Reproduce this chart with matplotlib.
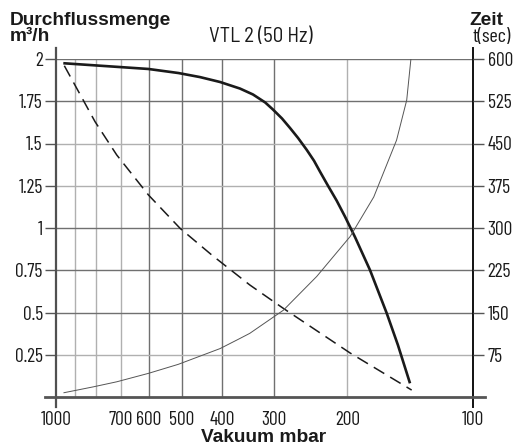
import matplotlib
matplotlib.use("Agg")
import matplotlib.pyplot as plt
from matplotlib.ticker import FixedLocator, FixedFormatter, NullLocator

# ---------------- data ----------------
flow_pressure = [960.5, 600.5, 508.7, 451.6, 404.3, 362, 337, 315.1, 301.8, 287.1, 274.7,
                 262.8, 250.4, 240.6, 232.7, 222.7, 212.3, 202.8, 191.9, 176.6, 161.1, 151.4, 141.6]
flow_values = [1.975, 1.941, 1.917, 1.893, 1.864, 1.825, 1.790, 1.743, 1.701, 1.648, 1.592,
               1.533, 1.462, 1.398, 1.333, 1.25, 1.162, 1.068, 0.947, 0.751, 0.497, 0.308, 0.081]

dash_pressure = [955, 806, 715, 600, 504, 423, 343, 286, 197, 140.3]
dash_values = [1.96, 1.629, 1.432, 1.195, 0.998, 0.84, 0.663, 0.527, 0.26, 0.041]

time_pressure = [957, 814, 715, 600, 509, 404, 362, 343, 285, 237, 197, 173, 152.5, 144.2, 140.9]
time_values = [7.6, 18, 27, 42, 58, 86, 104, 113, 154, 214, 285, 355, 456, 527, 600]

x_grid = [900, 800, 700, 600, 500, 400, 300, 200]
x_ticks = [1000, 700, 600, 500, 400, 300, 200, 100]
x_labels = ["1000", "700", "600", "500", "400", "300", "200", "100"]
y_ticks = [0.25, 0.5, 0.75, 1, 1.25, 1.5, 1.75, 2]
y_labels = ["0.25", "0.5", "0.75", "1", "1.25", "1.5", "1.75", "2"]
t_ticks = [75, 150, 225, 300, 375, 450, 525, 600]
t_labels = ["75", "150", "225", "300", "375", "450", "525", "600"]

title = "VTL 2 (50 Hz)"
ylabel_left = ["Durchflussmenge", "m³/h"]
ylabel_right = ["Zeit", "t(sec)"]
xlabel = "Vakuum mbar"

# ---------------- figure ----------------
W, H = 513, 446
fig = plt.figure(figsize=(W / 100, H / 100), dpi=100)
L, R, T, B = 56, 473, 59, 397
ax = fig.add_axes([L / W, 1 - B / H, (R - L) / W, (B - T) / H])
ax.set_xscale("log")
ax.set_xlim(1000, 100)
ax.set_ylim(0, 2)

cond = ["Barlow Condensed", "DejaVu Sans"]
semi = ["Barlow Semi Condensed", "Barlow Condensed", "DejaVu Sans"]
bold = ["Liberation Sans", "DejaVu Sans"]
txt = "#1a1a1a"
tick_fs = 14

dark_g, light_g = "#707070", "#b0b0b0"
xg_col = [light_g, light_g, light_g, dark_g, dark_g, dark_g, dark_g, light_g]
for xv, c in zip(x_grid, xg_col):
    ax.axvline(xv, color=c, lw=1.0, zorder=1)
yg_col = [light_g, dark_g, dark_g, dark_g, light_g, light_g, dark_g, dark_g]
for yv, c in zip(y_ticks, yg_col):
    ax.axhline(yv, color=c, lw=1.0, zorder=1)

for s in ax.spines.values():
    s.set_visible(False)

# spines drawn extended
h_ax = B - T
w_ax = R - L
ax.plot([0, 0], [(B - 407) / h_ax, (B - 48) / h_ax], transform=ax.transAxes,
        color="#505050", lw=1.6, clip_on=False, zorder=3)
ax.plot([1, 1], [(B - 407) / h_ax, (B - 48) / h_ax], transform=ax.transAxes,
        color="#111111", lw=1.4, clip_on=False, zorder=3)
ax.plot([(45 - L) / w_ax, (485 - L) / w_ax], [0, 0], transform=ax.transAxes,
        color="#555555", lw=2.0, clip_on=False, zorder=3)

# curves
ax.plot(flow_pressure, flow_values, color="#1a1a1a", lw=1.9, zorder=4,
        solid_capstyle="butt", solid_joinstyle="round")
ax.plot(dash_pressure, dash_values, color="#1a1a1a", lw=1.1, zorder=4,
        dashes=(8, 4.5))

ax2 = ax.twinx()
ax2.set_ylim(0, 600)
for s in ax2.spines.values():
    s.set_visible(False)
ax2.plot(time_pressure, time_values, color="#555555", lw=0.7, zorder=4)

# ticks
ax.xaxis.set_major_locator(FixedLocator(x_ticks))
ax.xaxis.set_major_formatter(FixedFormatter(x_labels))
ax.xaxis.set_minor_locator(NullLocator())
ax.tick_params(axis="x", length=0, pad=10, labelsize=tick_fs, labelcolor=txt)
for lab in ax.get_xticklabels():
    lab.set_family(cond)

ax.set_yticks(y_ticks)
ax.set_yticklabels(y_labels)
ax.tick_params(axis="y", direction="out", length=8, width=1.0, color="#555555",
               pad=1.5, labelsize=tick_fs, labelcolor=txt)
for lab in ax.get_yticklabels():
    lab.set_family(cond)

ax2.set_yticks(t_ticks)
ax2.set_yticklabels(t_labels)
ax2.tick_params(axis="y", direction="out", length=8, width=1.0, color="#555555",
                pad=2.5, labelsize=tick_fs, labelcolor=txt)
for lab in ax2.get_yticklabels():
    lab.set_family(cond)

# texts
def px(x, y):
    return x / W, 1 - y / H

fig.text(*px(10, 25), ylabel_left[0], family=bold, weight="bold", fontsize=13.8,
         color=txt, ha="left", va="baseline")
fig.text(*px(10, 41), ylabel_left[1], family=bold, weight="bold", fontsize=13.8,
         color=txt, ha="left", va="baseline")
fig.text(*px(503, 25), ylabel_right[0], family=bold, weight="bold", fontsize=13.8,
         color=txt, ha="right", va="baseline")
fig.text(*px(511, 42), ylabel_right[1], family=cond, fontsize=14.5,
         color=txt, ha="right", va="baseline")
fig.text(*px(261, 42), title, family=semi, fontsize=15,
         color=txt, ha="center", va="baseline")
fig.text(*px(264, 442), xlabel, family=bold, weight="bold", fontsize=13.8,
         color=txt, ha="center", va="baseline")

fig.savefig("out.png", dpi=100)
